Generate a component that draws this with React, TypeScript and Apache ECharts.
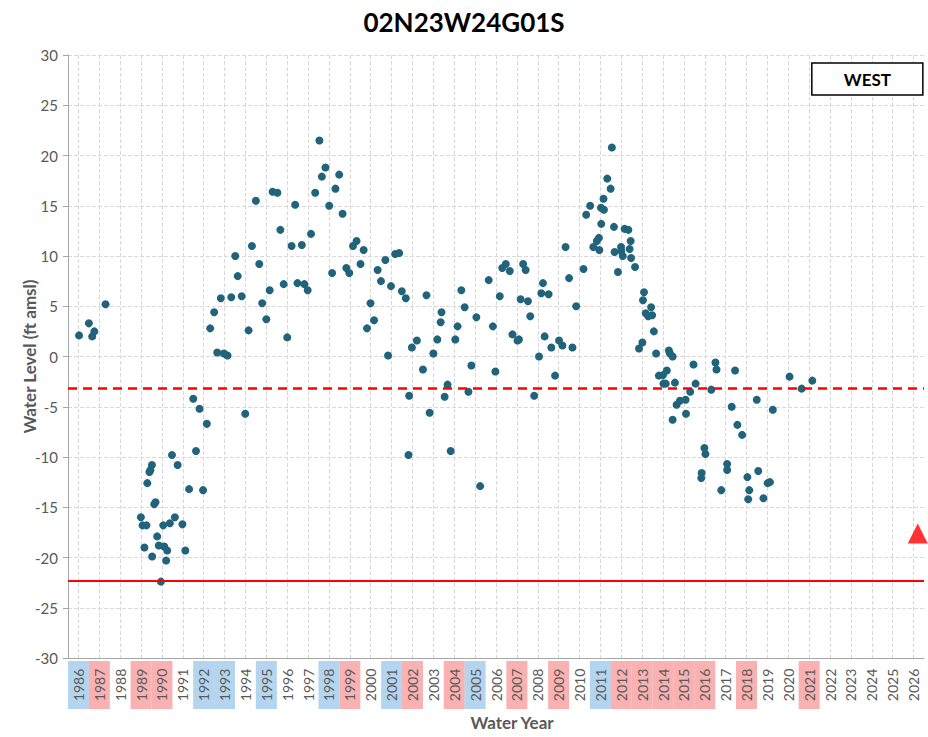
import React, { useEffect, useRef } from "react";
import * as echarts from "echarts";

// Observation dates (decimal water year) and water levels (ft amsl)
const obsYear = [
  1986.03, 1986.5, 1986.66, 1986.76, 1987.3,
  1988.99, 1989.07, 1989.16, 1989.26, 1989.3, 1989.4, 1989.45, 1989.52, 1989.53, 1989.63, 1989.69, 1989.77, 1989.85, 1989.95,
  1990.06, 1990.11, 1990.2, 1990.25, 1990.38, 1990.48, 1990.62, 1990.75, 1990.98,
  1991.12, 1991.3, 1991.5, 1991.63, 1991.8, 1991.97,
  1992.15, 1992.31, 1992.5, 1992.65, 1992.82, 1992.97,
  1993.14, 1993.32, 1993.51, 1993.63, 1993.82, 1993.99,
  1994.15, 1994.31, 1994.5, 1994.66, 1994.8,
  1995.0, 1995.16, 1995.3, 1995.53, 1995.67, 1995.83,
  1996.0, 1996.21, 1996.38, 1996.49, 1996.7, 1996.82, 1996.98,
  1997.14, 1997.34, 1997.54, 1997.66, 1997.83,
  1998.01, 1998.15, 1998.31, 1998.49, 1998.65, 1998.83, 1998.97,
  1999.15, 1999.32, 1999.51, 1999.66, 1999.82, 1999.99,
  2000.16, 2000.33, 2000.49, 2000.7, 2000.83, 2000.97,
  2001.17, 2001.36, 2001.49, 2001.68, 2001.81, 2001.84, 2001.97,
  2002.21, 2002.5, 2002.67, 2002.82,
  2003.0, 2003.19, 2003.35, 2003.39, 2003.54, 2003.68, 2003.83,
  2004.05, 2004.16, 2004.34, 2004.5, 2004.68, 2004.82,
  2005.06, 2005.24, 2005.65, 2005.85, 2005.97,
  2006.18, 2006.3, 2006.47, 2006.66, 2006.79,
  2007.03, 2007.1, 2007.18, 2007.3, 2007.42, 2007.53, 2007.64, 2007.83,
  2008.06, 2008.17, 2008.25, 2008.33, 2008.52, 2008.65, 2008.83,
  2009.02, 2009.18, 2009.33, 2009.5, 2009.66, 2009.84,
  2010.19, 2010.32, 2010.51, 2010.66, 2010.83, 2010.93, 2010.95,
  2011.03, 2011.04, 2011.15, 2011.17, 2011.33, 2011.49, 2011.55, 2011.65, 2011.68, 2011.84, 2011.99,
  2012.0, 2012.07, 2012.16, 2012.34, 2012.4, 2012.45, 2012.47, 2012.66, 2012.85,
  2013.01, 2013.04, 2013.09, 2013.17, 2013.29, 2013.43, 2013.48, 2013.56, 2013.67, 2013.8,
  2014.0, 2014.02, 2014.13, 2014.18, 2014.28, 2014.33, 2014.46, 2014.46, 2014.57, 2014.65, 2014.81,
  2015.08, 2015.1, 2015.3, 2015.46, 2015.56, 2015.83, 2015.85, 2015.98,
  2016.03, 2016.31, 2016.51, 2016.56, 2016.79,
  2017.07, 2017.07, 2017.29, 2017.45, 2017.56, 2017.79,
  2018.04, 2018.08, 2018.13, 2018.49, 2018.56, 2018.81,
  2019.01, 2019.12, 2019.26,
  2020.06, 2020.64, 2021.15,
];

const obsLevel = [
  2.1, 3.3, 2.0, 2.5, 5.2,
  -16.0, -16.8, -19.0, -16.8, -12.6, -11.5, -11.3, -10.8, -19.9, -14.7, -14.5, -17.9, -18.8, -22.4,
  -16.8, -18.9, -20.3, -19.3, -16.6, -9.8, -16.0, -10.8, -16.7,
  -19.3, -13.2, -4.2, -9.4, -5.2, -13.3,
  -6.7, 2.8, 4.4, 0.4, 5.8, 0.3,
  0.1, 5.9, 10.0, 8.0, 6.0, -5.7,
  2.6, 11.0, 15.5, 9.2, 5.3,
  3.7, 6.6, 16.4, 16.3, 12.6, 7.2,
  1.9, 11.0, 15.1, 7.3, 11.1, 7.2, 6.6,
  12.2, 16.3, 21.5, 17.9, 18.8,
  15.0, 8.3, 16.7, 18.1, 14.2, 8.8, 8.3,
  11.0, 11.5, 9.2, 10.6, 2.8, 5.3,
  3.6, 8.6, 7.5, 9.6, 0.1, 7.0,
  10.2, 10.3, 6.5, 5.8, -9.8, -3.9, 0.9,
  1.6, -1.3, 6.1, -5.6,
  0.3, 1.7, 3.4, 4.4, -4.0, -2.8, -9.4,
  1.7, 3.0, 6.6, 4.9, -3.5, -0.9,
  3.9, -12.9, 7.6, 3.0, -1.5,
  6.0, 8.8, 9.2, 8.5, 2.2,
  1.6, 1.7, 5.7, 9.2, 8.6, 5.5, 4.0, -3.9,
  0.0, 6.3, 7.3, 2.0, 6.2, 0.9, -1.9,
  1.6, 1.1, 10.9, 7.8, 0.9, 5.0,
  8.7, 14.1, 15.0, 10.9, 11.5, 11.8, 10.6,
  14.8, 13.2, 15.7, 14.6, 17.7, 16.7, 20.8, 12.9, 10.4, 8.4, 10.9,
  10.5, 10.0, 12.7, 12.6, 10.7, 11.5, 9.8, 8.9, 0.8,
  1.4, 5.6, 6.4, 4.3, 4.0, 4.9, 4.1, 2.5, 0.3, -1.9,
  -1.85, -2.7, -2.7, -1.4, 0.6, 0.3, 0.0, -6.3, -2.6, -4.8, -4.4,
  -4.3, -5.7, -3.5, -0.8, -2.7, -12.1, -11.6, -9.1,
  -9.7, -3.3, -0.6, -1.3, -13.3,
  -10.7, -11.3, -5.0, -1.4, -6.8, -7.8,
  -12.0, -14.2, -13.3, -4.3, -11.4, -14.1,
  -12.6, -12.5, -5.3,
  -2.0, -3.2, -2.4,
];

const yearLabels = [
  "1986", "1987", "1988", "1989", "1990", "1991", "1992", "1993", "1994", "1995",
  "1996", "1997", "1998", "1999", "2000", "2001", "2002", "2003", "2004", "2005",
  "2006", "2007", "2008", "2009", "2010", "2011", "2012", "2013", "2014", "2015",
  "2016", "2017", "2018", "2019", "2020", "2021", "2022", "2023", "2024", "2025", "2026",
];
const wetYears = ["1986", "1992", "1993", "1995", "1998", "2001", "2005", "2011"];
const dryYears = ["1987", "1989", "1990", "1999", "2002", "2004", "2007", "2009", "2012", "2013", "2014", "2015", "2016", "2018", "2021"];

const thresholdDashed = -3.2;
const thresholdSolid = -22.3;
const markerTriangle = [[2026.2, -17.6]];

export default function App() {
  const ref = useRef<HTMLDivElement>(null);
  useEffect(() => {
    if (!ref.current) return;
    const chart = echarts.init(ref.current, undefined, { renderer: "svg" });
    const font = "Lato";
    const labelBase = {
      width: 48,
      height: 21,
      lineHeight: 21,
      align: "center",
      verticalAlign: "middle",
      fontSize: 14,
      color: "#595959",
      fontFamily: font,
    };
    const option = {
      animation: false,
      textStyle: { fontFamily: font },
      title: [
        {
          text: "02N23W24G01S",
          left: "center",
          top: 4,
          textStyle: { fontSize: 26, fontWeight: "bold", color: "#000", fontFamily: font },
        },
        {
          text: "WEST",
          right: 5,
          top: 63,
          padding: [8, 32, 7, 32],
          borderColor: "#000",
          borderWidth: 1.5,
          backgroundColor: "#fff",
          textStyle: { fontSize: 17, fontWeight: "bold", color: "#000", fontFamily: font },
        },
      ],
      grid: { left: 68, right: 4, top: 55, bottom: 79 },
      xAxis: [
        {
          type: "category",
          data: yearLabels,
          boundaryGap: true,
          position: "bottom",
          name: "Water Year",
          nameLocation: "middle",
          nameGap: 56,
          nameMoveOverlap: false,
          nameTextStyle: { fontSize: 17, fontWeight: "bold", color: "#595959", fontFamily: font, padding: [0, 0, 0, 32] },
          axisLine: { onZero: false, lineStyle: { color: "#a6a6a6", width: 1 } },
          axisTick: { alignWithLabel: true, length: 5, lineStyle: { color: "#a6a6a6" } },
          axisLabel: {
            interval: 0,
            rotate: 90,
            margin: 3,
            formatter: (v: string) =>
              wetYears.includes(v) ? `{w|${v}}` : dryYears.includes(v) ? `{d|${v}}` : `{n|${v}}`,
            rich: {
              w: { ...labelBase, backgroundColor: "#b4d5ef" },
              d: { ...labelBase, backgroundColor: "#fab1b1" },
              n: { ...labelBase },
            },
          },
          splitLine: { show: true, alignWithLabel: true, lineStyle: { type: "dashed", color: "#d9d9d9" } },
        },
        { type: "value", min: 1985.5, max: 2026.5, show: false },
      ],
      yAxis: {
        type: "value",
        min: -30,
        max: 30,
        interval: 5,
        name: "Water Level (ft amsl)",
        nameLocation: "middle",
        nameGap: 30,
        nameMoveOverlap: false,
        nameTextStyle: { fontSize: 17, fontWeight: "bold", color: "#595959", fontFamily: font },
        axisLine: { show: true, onZero: false, lineStyle: { color: "#a6a6a6" } },
        axisTick: { show: true, length: 5, lineStyle: { color: "#a6a6a6" } },
        axisLabel: { fontSize: 15, color: "#595959", margin: 10, fontFamily: font },
        splitLine: { show: true, lineStyle: { type: "dashed", color: "#d9d9d9" } },
      },
      series: [
        {
          type: "scatter",
          xAxisIndex: 1,
          yAxisIndex: 0,
          symbolSize: 8,
          itemStyle: { color: "#21637a", opacity: 1 },
          data: obsYear.map((y, i) => [y, obsLevel[i]]),
          markLine: {
            silent: true,
            symbol: "none",
            label: { show: false },
            data: [
              { yAxis: thresholdDashed, lineStyle: { color: "#ff0000", width: 2.5, type: [9, 6] } },
              { yAxis: thresholdSolid, lineStyle: { color: "#ff0000", width: 2, type: "solid" } },
            ],
          },
          z: 3,
        },
        {
          type: "scatter",
          xAxisIndex: 1,
          yAxisIndex: 0,
          symbol: "triangle",
          symbolSize: 20,
          itemStyle: { color: "#ff0000" },
          data: markerTriangle,
          z: 4,
        },
      ],
    };
    chart.setOption(option as any);
    return () => chart.dispose();
  }, []);
  return <div ref={ref} style={{ position: "absolute", left: 0, top: 0, width: 928, height: 737 }} />;
}
